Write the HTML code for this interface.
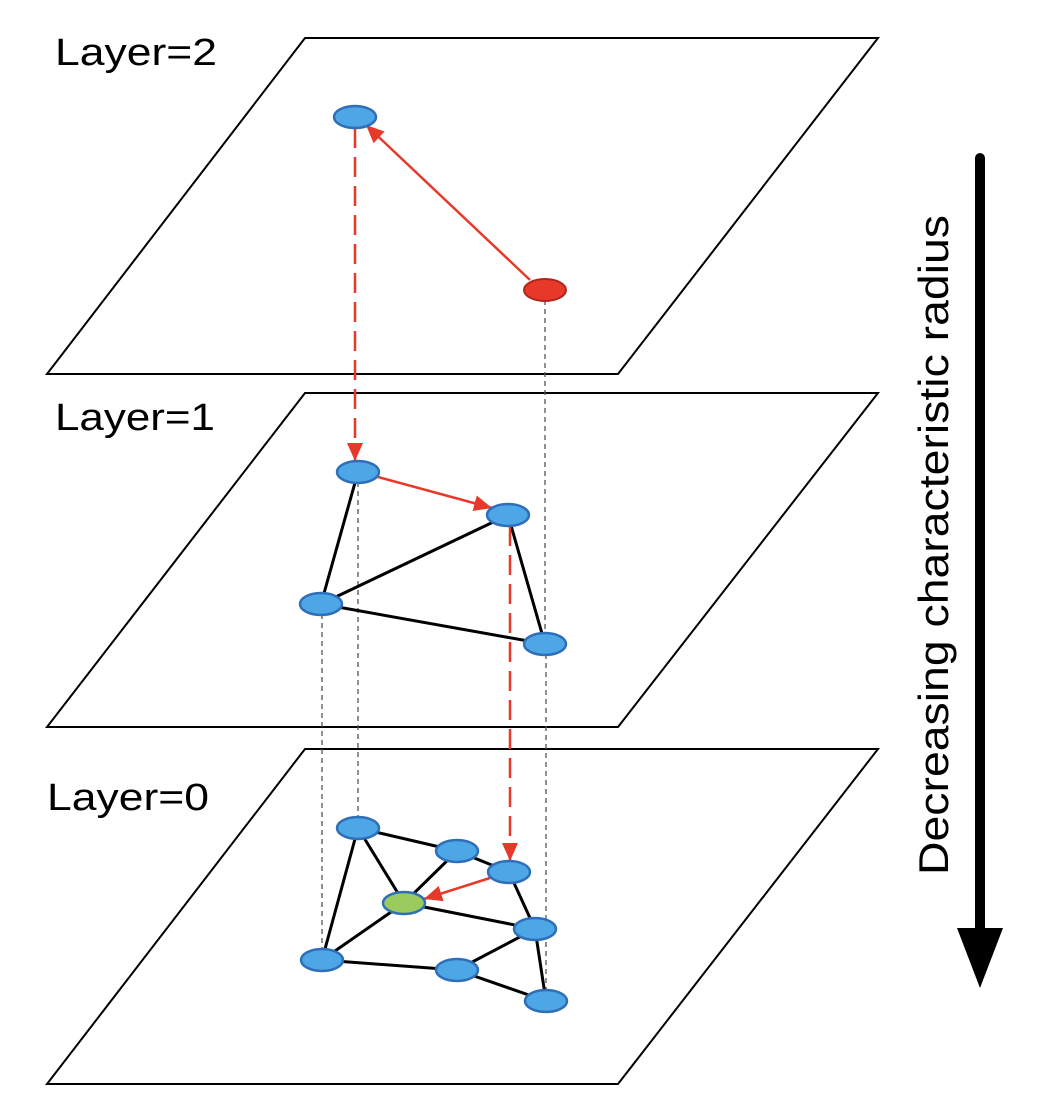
<!DOCTYPE html>
<html><head><style>body{margin:0;background:#fff}svg{display:block}</style></head><body>
<svg width="1046" height="1098" viewBox="0 0 1046 1098" xmlns="http://www.w3.org/2000/svg">
<defs>
<marker id="rb" markerWidth="20" markerHeight="16" refX="18" refY="8" orient="auto" markerUnits="userSpaceOnUse"><path d="M0,0 L18,8 L0,16 z" fill="#e8382a"/></marker>
</defs>
<g fill="none" stroke="#000" stroke-width="2">
<polygon points="305,38 878,38 618,374 47,374"/>
<polygon points="305,393 878,393 618,727 47,727"/>
<polygon points="305,749 878,749 618,1084 47,1084"/>
</g>
<g font-family="Liberation Sans, sans-serif" font-size="38" fill="#000">
<text x="55" y="65" textLength="162" lengthAdjust="spacingAndGlyphs">Layer=2</text>
<text x="55" y="430" textLength="160" lengthAdjust="spacingAndGlyphs">Layer=1</text>
<text x="47" y="810" textLength="162" lengthAdjust="spacingAndGlyphs">Layer=0</text>
</g>
<g stroke="#555" stroke-width="1.3" stroke-dasharray="5,4">
<line x1="545" y1="300" x2="545" y2="634"/>
<line x1="546" y1="654" x2="546" y2="990"/>
<line x1="322" y1="614" x2="322" y2="950"/>
<line x1="358" y1="482" x2="358" y2="818"/>
</g>
<g stroke="#000" stroke-width="3">
<line x1="358" y1="472" x2="321" y2="604"/>
<line x1="321" y1="604" x2="508" y2="515"/>
<line x1="321" y1="604" x2="545" y2="644"/>
<line x1="508" y1="515" x2="545" y2="644"/>
<line x1="358" y1="828" x2="457" y2="851"/>
<line x1="358" y1="828" x2="404" y2="903"/>
<line x1="358" y1="828" x2="322" y2="960"/>
<line x1="457" y1="851" x2="509" y2="872"/>
<line x1="457" y1="851" x2="404" y2="903"/>
<line x1="404" y1="903" x2="535" y2="929"/>
<line x1="404" y1="903" x2="322" y2="960"/>
<line x1="509" y1="872" x2="535" y2="929"/>
<line x1="535" y1="929" x2="457" y2="970"/>
<line x1="535" y1="929" x2="546" y2="1001"/>
<line x1="322" y1="960" x2="457" y2="970"/>
<line x1="457" y1="970" x2="546" y2="1001"/>
</g>
<g stroke="#e8382a" stroke-width="2.5" fill="none">
<line x1="530" y1="280" x2="366" y2="125" marker-end="url(#rb)"/>
<line x1="378" y1="477" x2="492" y2="508" marker-end="url(#rb)"/>
<line x1="490" y1="878" x2="424" y2="899" marker-end="url(#rb)"/>
<line x1="355" y1="128" x2="355" y2="461" stroke-dasharray="20,9" marker-end="url(#rb)"/>
<line x1="510" y1="526" x2="510" y2="861" stroke-dasharray="20,9" marker-end="url(#rb)"/>
</g>
<g fill="#4da6e6" stroke="#2e6fb8" stroke-width="2.5">
<ellipse cx="355" cy="117" rx="21" ry="11"/>
<ellipse cx="358" cy="472" rx="21" ry="11"/>
<ellipse cx="508" cy="515" rx="21" ry="11"/>
<ellipse cx="321" cy="604" rx="21" ry="11"/>
<ellipse cx="545" cy="644" rx="21" ry="11"/>
<ellipse cx="358" cy="828" rx="21" ry="11"/>
<ellipse cx="457" cy="851" rx="21" ry="11"/>
<ellipse cx="509" cy="872" rx="21" ry="11"/>
<ellipse cx="535" cy="929" rx="21" ry="11"/>
<ellipse cx="322" cy="960" rx="21" ry="11"/>
<ellipse cx="457" cy="970" rx="21" ry="11"/>
<ellipse cx="546" cy="1001" rx="21" ry="11"/>
</g>
<ellipse cx="545" cy="290" rx="21" ry="11" fill="#e8382a" stroke="#b0261c" stroke-width="2"/>
<ellipse cx="404" cy="903" rx="21" ry="11" fill="#9bcb5e" stroke="#2e6fb8" stroke-width="2.5"/>
<line x1="980" y1="158" x2="980" y2="932" stroke="#000" stroke-width="10" stroke-linecap="round"/>
<polygon points="957,928 1003,928 980,988" fill="#000"/>
<text transform="translate(948,545) rotate(-90)" text-anchor="middle" font-family="Liberation Sans, sans-serif" font-size="42" fill="#000" textLength="660" lengthAdjust="spacingAndGlyphs">Decreasing characteristic radius</text>
</svg>
</body></html>
